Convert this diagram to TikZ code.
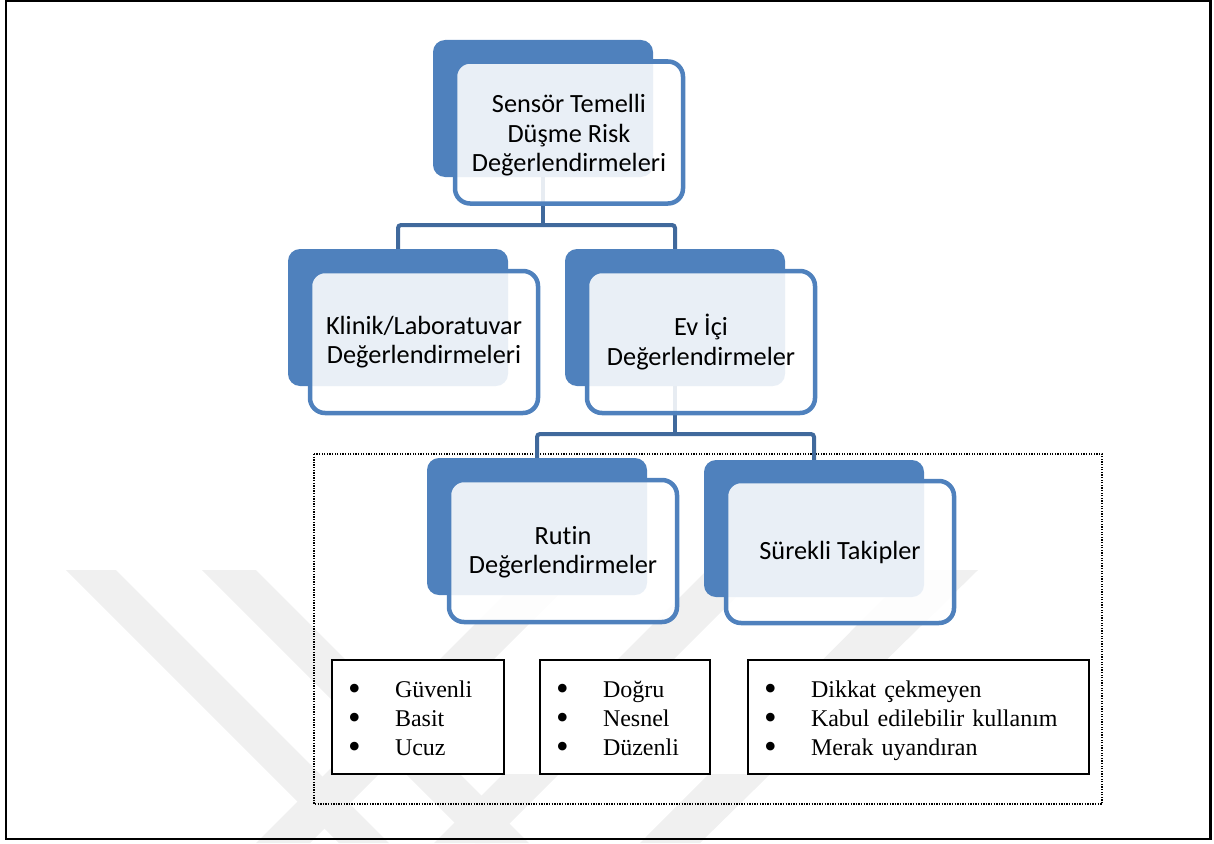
\documentclass[tikz,border=0pt]{standalone}
\usepackage{fontspec}
\setmainfont{Liberation Serif}
\newfontfamily\calibrifont[Ligatures=NoCommon]{Carlito}
\definecolor{accent}{HTML}{4F81BD}
\definecolor{connc}{HTML}{40699C}
\definecolor{wmark}{HTML}{F0F0F0}
\newcommand\bitem[1]{\strut\makebox[47pt][l]{\raisebox{-3pt}{\scalebox{1.5}{\textbullet}}}#1}
\newcommand\topstrut{\rule{0pt}{28.3pt}}
\begin{document}
\begin{tikzpicture}[x=1pt,y=-1pt,
  backbox/.style={fill=accent, rounded corners=12pt, minimum width=220pt, minimum height=137pt, inner sep=0pt},
  frontbox/.style={draw=accent, line width=4.5pt, fill=white, fill opacity=0.88, text opacity=1, rounded corners=15pt,
    minimum width=228pt, minimum height=142pt, align=center, inner sep=0pt,
    font=\calibrifont\fontsize{26.3}{29.5}\selectfont},
  conn/.style={draw=connc, line width=4pt, rounded corners=3pt},
  listbox/.style={draw=black, line width=2pt, fill=white, minimum height=114pt, inner xsep=16pt, inner ysep=0pt, align=left,
    font=\fontsize{24}{29}\selectfont},
  wmband/.style={fill=wmark}]
\useasboundingbox (0,0) rectangle (1214,843);
% watermark
\fill[wmband] (66,570) -- (116,570) -- (389,843) -- (339,843) -- cycle;
\fill[wmband] (202,570) -- (256,570) -- (529,843) -- (475,843) -- cycle;
\fill[wmband] (256,843) -- (310,843) -- (583,570) -- (529,570) -- cycle;
\fill[wmband] (434,843) -- (490,843) -- (763,570) -- (707,570) -- cycle;
\fill[wmband] (640,843) -- (700,843) -- (978,570) -- (912,570) -- cycle;
% outer frame
\draw[line width=2.4pt] (6.2,1) rectangle (1210.5,839);
% group frame
\draw[line width=1.3pt, dash pattern=on 1.3pt off 1.3pt] (314,454) rectangle (1102,804);
% back boxes
\node[backbox] (b1) at (543,108.5) {};
\node[backbox] (b2) at (398,317.5) {};
\node[backbox] (b3) at (675,317.5) {};
\node[backbox] (b4) at (537,526.5) {};
\node[backbox] (b5) at (814,528.5) {};
% connectors
\coordinate (j1) at (543,225);
\coordinate (j2) at (675,434);
\draw[conn] (b1.south) -- (j1);
\draw[conn] (j1) -| (b2.north);
\draw[conn] (j1) -| (b3.north);
\draw[conn] (b3.south) -- (j2);
\draw[conn] (j2) -| (b4.north);
\draw[conn] (j2) -| (b5.north);
% front boxes
\node[frontbox] (f1) at (569,132.5) {\rule{0pt}{24pt}Sensör Temelli\\Düşme Risk\\Değerlendirmeleri};
\node[frontbox] (f2) at (424,342) {Klinik/Laboratuvar\\Değerlendirmeleri};
\node[frontbox] (f3) at (701,342) {Ev İçi\\Değerlendirmeler};
\node[frontbox] (f4) at (563,551) {\rule{0pt}{21pt}Rutin\\Değerlendirmeler};
\node[frontbox] (f5) at (840,552) {Sürekli Takipler};
% list boxes
\fill[white] (332,660) rectangle (1089,774);
\node[listbox, minimum width=172pt, text width=140pt] (l1) at (418,717) {\topstrut\bitem{Güvenli}\\\bitem{Basit}\\\bitem{Ucuz}};
\node[listbox, minimum width=170pt, text width=138pt] (l2) at (625,717) {\topstrut\bitem{Doğru}\\\bitem{Nesnel}\\\bitem{Düzenli}};
\node[listbox, minimum width=341pt, text width=309pt] (l3) at (918.5,717) {\topstrut\bitem{Dikkat çekmeyen}\\\bitem{Kabul edilebilir kullanım}\\\bitem{Merak uyandıran}};
\end{tikzpicture}
\end{document}
